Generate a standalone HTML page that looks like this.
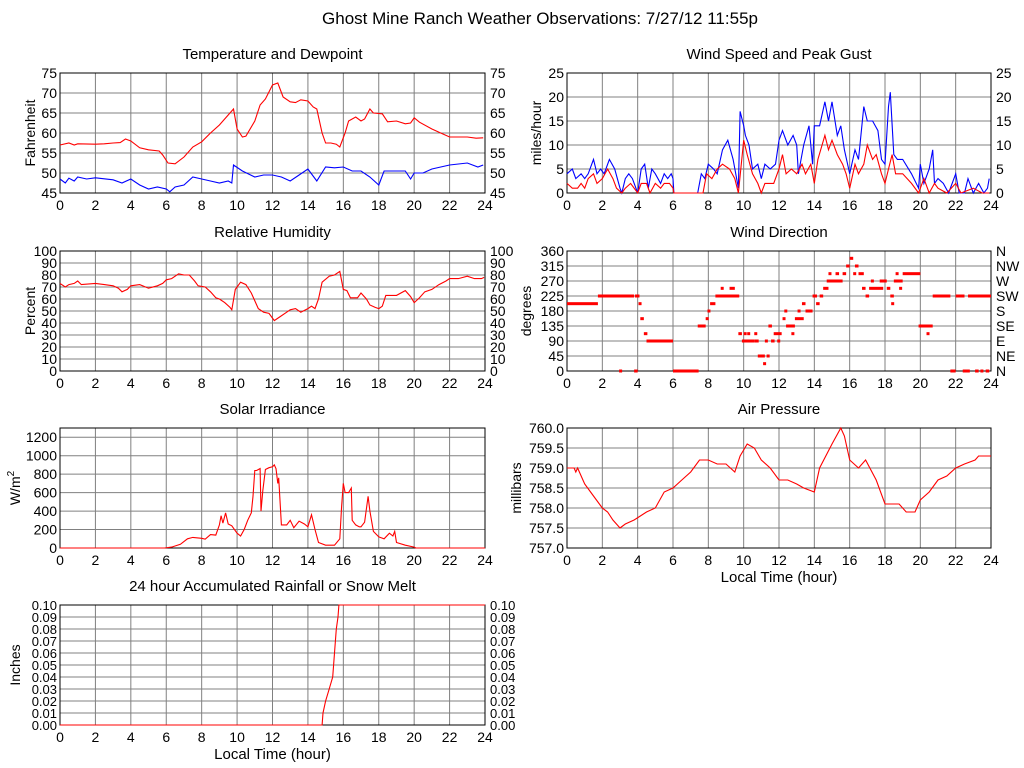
<!DOCTYPE html>
<html><head><meta charset="utf-8"><style>
html,body{margin:0;padding:0;background:#fff;}
svg{display:block;font-family:"Liberation Sans",sans-serif;}
</style></head><body>
<svg id="chart" width="1024" height="768" viewBox="0 0 1024 768" xmlns="http://www.w3.org/2000/svg">
<rect x="0" y="0" width="1024" height="768" fill="#fff"/>
<text x="540" y="24" font-size="17" text-anchor="middle">Ghost Mine Ranch Weather Observations: 7/27/12 11:55p</text>
</svg>
<script>
// ---- data ----
const tempT=[0,0.5,0.8,1,2,2.5,3,3.4,3.7,4,4.5,5,5.6,5.8,6.1,6.5,7,7.5,8,8.5,9,9.5,9.8,10,10.3,10.5,11,11.3,11.6,12,12.3,12.6,13,13.3,13.6,14,14.3,14.5,14.8,15,15.3,15.6,15.8,16.1,16.3,16.7,17,17.2,17.5,17.7,18.2,18.5,19,19.5,19.8,20,20.3,21,21.5,22,23,23.5,23.9];
const tempV=[57,57.5,57,57.3,57.2,57.3,57.5,57.6,58.5,58,56.3,55.8,55.5,54.5,52.5,52.3,54,56.5,57.8,60,62,64.5,66,61,59,59.2,63,67,68.5,72,72.5,69,67.8,67.6,68.3,68,66.5,66,60,57.5,57.5,57.2,56.5,60,63,64,63,63.5,66,65,64.8,62.8,63,62.3,62.5,63.8,62.7,61,60,59,59,58.7,58.8];
const dewT=[0,0.3,0.5,0.8,1,1.5,2,3,3.5,4,4.5,5,5.5,6,6.2,6.5,7,7.5,8,8.5,9,9.5,9.7,9.8,10.3,11,11.5,12,12.5,13,13.5,14,14.5,15,15.5,16,16.5,17,17.5,18,18.3,19,19.5,19.8,20,20.5,21,22,23,23.6,23.9];
const dewV=[48.5,47.5,48.7,48,49,48.5,48.8,48.3,47.5,48.5,47,46,46.5,46,45.3,46.5,47,49,48.5,48,47.5,48,47.5,52,50.5,49,49.5,49.5,49,48,49.5,51,48,51.5,51.3,51.5,50.5,50.5,49,47,50.5,50.5,50.5,48.5,50,50,51,52,52.5,51.5,52];
const gustT=[0,0.3,0.5,0.8,1,1.2,1.5,1.7,1.9,2.1,2.4,2.7,3,3.1,3.3,3.5,3.7,4,4.2,4.4,4.6,4.8,5,5.3,5.5,5.7,5.9,6,6.05,7.4,7.6,7.8,8,8.3,8.5,8.8,9.1,9.4,9.7,9.8,10,10.1,10.3,10.5,10.8,11,11.2,11.5,11.8,12,12.2,12.5,12.8,13,13.1,13.4,13.7,13.9,14,14.3,14.6,14.8,15,15.3,15.5,15.7,16,16.3,16.5,16.8,17,17.3,17.6,17.8,18,18.2,18.3,18.5,18.7,19,19.5,19.9,20,20.2,20.5,20.7,20.8,21,21.3,21.6,22,22.2,22.5,22.7,23,23.3,23.6,23.8,23.9];
const gustV=[4,5,3,4,3,4,7,4,5,4,7,5,1,0,3,4,3,0,5,6,1,5,4,2,4,3,4,3,0,0,4,3,6,5,4,9,11,7,1,17,14,12,10,5,6,3,6,5,6,11,13,10,12,10,4,10,14,6,14,14,19,15,19,12,14,9,4,9,7,18,15,15,13,7,6,18,21,8,7,7,4,1,6,2,5,9,2,3,2,0,4,0,0,3,0,2,0,1,3];
const speedT=[0,0.3,0.6,0.8,1,1.2,1.5,1.7,2,2.3,2.6,2.8,3.1,3.3,3.6,4,4.2,4.5,4.7,5,5.3,5.5,5.8,6,6.05,7.7,7.9,8.2,8.5,8.8,9.2,9.5,9.7,10,10.2,10.5,10.8,11,11.2,11.7,12,12.2,12.4,12.7,13,13.3,13.5,13.8,14,14.2,14.6,14.8,15,15.3,15.6,15.8,16,16.3,16.5,16.8,17,17.3,17.5,17.8,18,18.2,18.4,18.6,19,19.5,19.9,20.2,20.5,20.8,21,21.5,22,22.3,23,23.5,23.9];
const speedV=[2,1,1,2,1,3,4,2,3,5,3,1,0,1,2,0,2,2,0,2,1,2,2,1,0,0,4,3,5,6,5,3,0,11,8,4,2,0,2,2,5,8,4,5,4,6,4,6,2,7,12,9,11,8,6,4,1,6,4,6,10,7,8,4,2,5,8,4,4,2,0,3,0,2,1,0,2,0,1,0,0];
// wind direction: start hour, end hour, degrees
const dirStart=[0,1.75,2.95,3.8,3.85,4.05,4.15,4.35,4.5,6.0,7.4,7.85,7.95,8.1,8.4,8.7,9.2,9.7,9.9,10.0,10.2,10.6,10.6,10.8,11.1,11.3,11.2,11.4,11.55,11.7,11.9,12.2,12.3,12.4,12.7,12.9,13.05,13.3,13.5,13.9,14.1,14.3,14.5,14.7,14.8,15.2,15.4,15.6,15.8,16.0,16.2,16.3,16.5,16.7,16.9,17.1,17.2,17.7,18.1,18.3,18.35,18.5,18.6,18.8,19.0,19.9,20.35,20.7,21.7,22.0,22.4,22.7,23.1,23.4,23.7];
const dirEnd=[1.75,3.8,3.05,4.0,4.1,4.15,4.35,4.55,6.0,7.45,7.85,7.95,8.1,8.4,9.75,8.8,9.5,9.9,10.6,10.1,10.3,10.7,10.85,11.2,11.2,11.4,11.3,11.6,11.75,12.15,12.0,12.3,12.4,12.9,12.8,13.4,13.15,13.5,13.9,14.15,14.3,14.5,14.8,15.5,14.9,15.4,15.6,15.8,16.0,16.2,16.3,16.5,16.8,16.9,17.1,17.9,17.3,18.1,18.3,18.5,18.45,19.0,18.7,18.9,20.0,20.7,20.45,21.7,22.0,22.5,22.8,24,23.3,23.55,23.9];
const dirV=[202,225,0,0,225,202,157,112,90,0,135,157,180,202,225,248,248,112,90,112,112,112,90,45,22,45,90,135,90,112,90,157,180,135,112,157,180,202,180,225,202,225,248,270,292,292,270,292,315,338,292,315,292,248,225,248,270,270,248,225,202,270,292,248,292,135,112,225,0,225,0,225,0,0,0];
const rhT=[0,0.3,0.5,0.8,1,1.2,2,2.5,3,3.3,3.5,3.8,4,4.5,5,5.5,5.8,6,6.3,6.7,7,7.3,7.6,7.8,8.2,8.5,8.8,9,9.3,9.6,9.7,9.9,10.2,10.5,10.8,11.2,11.5,11.8,12.1,12.4,12.8,13,13.3,13.6,14,14.2,14.4,14.6,14.8,15.2,15.5,15.8,16,16.2,16.4,16.8,17,17.3,17.5,17.8,18,18.2,18.4,19,19.5,19.8,20,20.3,20.6,21,21.4,21.8,22,22.5,23,23.4,23.8,23.95];
const rhV=[73,70,72,73,75,72,73,72,71,69,66,68,71,72,69,71,73,76,77,81,80,80,75,71,70,66,61,60,57,53,51,68,74,72,65,52,49,48,42,45,49,51,52,49,52,54,52,60,74,79,80,83,68,67,61,61,65,60,55,53,52,54,63,63,67,62,57,61,66,68,72,75,77,77,79,77,77,78];
const solT=[0,5.9,6.3,6.8,7.2,7.5,8,8.2,8.5,8.8,9.0,9.1,9.2,9.35,9.5,9.7,10,10.2,10.4,10.6,10.8,10.9,11.0,11.1,11.3,11.35,11.45,11.6,11.8,12,12.1,12.2,12.3,12.35,12.5,12.8,13.0,13.2,13.5,13.8,14,14.2,14.4,14.6,15,15.5,15.8,15.9,16.0,16.1,16.3,16.45,16.5,16.7,16.9,17.0,17.2,17.4,17.5,17.7,18,18.3,18.6,18.8,18.9,19,19.5,20,20.1,24];
const solV=[0,0,10,40,100,115,105,95,145,140,250,350,270,380,260,240,160,130,200,300,380,560,840,840,860,400,620,850,870,880,900,860,700,760,250,250,300,220,290,260,230,360,200,60,30,30,100,450,700,600,600,650,300,250,230,230,280,560,400,180,120,100,160,130,180,60,30,10,0,0];
const presT=[0,0.4,0.5,0.6,1,1.5,2,2.3,2.6,3,3.3,3.8,4.5,5,5.5,6,6.5,7,7.5,8,8.5,9,9.5,9.8,10.2,10.6,11,11.5,12,12.5,13,13.4,14,14.3,15,15.5,15.7,16,16.5,16.9,17.5,18,18.3,18.8,19.2,19.7,20,20.5,21,21.5,22,22.5,23.1,23.3,24];
const presV=[759.0,759.0,758.9,759.0,758.6,758.3,758.0,757.9,757.7,757.5,757.6,757.7,757.9,758.0,758.4,758.5,758.7,758.9,759.2,759.2,759.1,759.1,758.9,759.3,759.6,759.5,759.2,759.0,758.7,758.7,758.6,758.5,758.4,759.0,759.6,760.0,759.8,759.2,759.0,759.2,758.7,758.1,758.1,758.1,757.9,757.9,758.2,758.4,758.7,758.8,759.0,759.1,759.2,759.3,759.3];
const rainT=[0,14.8,14.85,15,15.2,15.4,15.5,15.6,15.7,15.75,24];
const rainV=[0,0,0.01,0.02,0.03,0.04,0.06,0.08,0.09,0.1,0.1];
const xTicks=[0,2,4,6,8,10,12,14,16,18,20,22,24];

const NS="http://www.w3.org/2000/svg";
const svg=document.getElementById('chart');
function mk(tag,attrs,parent){const e=document.createElementNS(NS,tag);for(const k in attrs)e.setAttribute(k,attrs[k]);(parent||svg).appendChild(e);return e;}

function panel(o){
  const g=mk('g',{});
  
  
  const xs=t=>o.x0+(t/24)*(o.x1-o.x0);
  const ys=v=>o.y1-(v-o.min)/(o.max-o.min)*(o.y1-o.y0);
  const t=mk('text',{x:(o.x0+o.x1)/2,y:o.y0-14,'font-size':15,'text-anchor':'middle'},g);
  t.textContent=o.title;
  
  
  // grid
  xTicks.forEach(v=>{
    const l=mk('line',{x1:xs(v),x2:xs(v),y1:o.y0,y2:o.y1,stroke:'#808080','stroke-width':1},g);
    
    
    const tx=mk('text',{x:xs(v),y:o.y1+17,'font-size':14,'text-anchor':'middle'},g);
    tx.textContent=v;
    
    
  });
  o.yTicks.forEach((v,i)=>{
    const l=mk('line',{x1:o.x0,x2:o.x1,y1:ys(v),y2:ys(v),stroke:'#808080','stroke-width':1},g);
    
    
    const lab=o.yLabels?o.yLabels[i]:String(v);
    const ty=mk('text',{x:o.x0-3,y:ys(v)+5,'font-size':o.tickFont||14,'text-anchor':'end'},g);
    ty.textContent=lab;
    
    
    if(o.right){
      const tr=mk('text',{x:o.x1+5,y:ys(v)+5,'font-size':o.tickFont||14},g);
      tr.textContent=o.rightLabels?o.rightLabels[i]:lab;
      
      
    }
  });
  const b=mk('rect',{x:o.x0,y:o.y0,width:o.x1-o.x0,height:o.y1-o.y0,fill:'none',stroke:'#000','stroke-width':1},g);
  
  
  const yt=mk('text',{x:0,y:0,'font-size':14,'text-anchor':'middle',transform:`translate(${o.yTitleX},${(o.y0+o.y1)/2}) rotate(-90)`},g);
  
  
  if(o.sup){yt.textContent=o.yTitle;const s=mk('tspan',{dy:-6,'font-size':10},yt);s.textContent=o.sup;}
  else yt.textContent=o.yTitle;
  if(o.xTitle){
    const xt=mk('text',{x:(o.x0+o.x1)/2,y:o.y1+34,'font-size':15,'text-anchor':'middle'},g);
    xt.textContent=o.xTitle;
    
    
  }
  (o.series||[]).forEach(s=>{
    const d=s.t.map((tt,i)=>(i?'L':'M')+xs(tt).toFixed(1)+' '+ys(s.v[i]).toFixed(1)).join(' ');
    const p=mk('path',{d:d,fill:'none',stroke:s.color,'stroke-width':1.1},g);
    
    
  });
  if(o.segs){
    o.segs.s.forEach((st,i)=>{
      const y=ys(o.segs.v[i]);
      const r=mk('rect',{x:xs(st),y:y-1.5,width:Math.max(3,xs(o.segs.e[i])-xs(st)),height:3,fill:'#f00'},g);
      
      
    });
  }
}
const L={x0:60,x1:485}, R={x0:567,x1:991};
panel({name:'temperature',title:'Temperature and Dewpoint',...L,y0:73,y1:193,min:45,max:75,yTicks:[45,50,55,60,65,70,75],right:true,yTitle:'Fahrenheit',yTitleX:35,
  series:[{name:'temperature-line',t:tempT,v:tempV,color:'#f00'},{name:'dewpoint-line',t:dewT,v:dewV,color:'#00f'}]});
panel({name:'wind-speed',title:'Wind Speed and Peak Gust',...R,y0:73,y1:193,min:0,max:25,yTicks:[0,5,10,15,20,25],right:true,yTitle:'miles/hour',yTitleX:541,
  series:[{name:'gust-line',t:gustT,v:gustV,color:'#00f'},{name:'speed-line',t:speedT,v:speedV,color:'#f00'}]});
panel({name:'humidity',title:'Relative Humidity',...L,y0:251,y1:371,min:0,max:100,yTicks:[0,10,20,30,40,50,60,70,80,90,100],right:true,yTitle:'Percent',yTitleX:35,
  series:[{name:'humidity-line',t:rhT,v:rhV,color:'#f00'}]});
panel({name:'wind-direction',title:'Wind Direction',...R,y0:251,y1:371,min:0,max:360,yTicks:[0,45,90,135,180,225,270,315,360],right:true,
  rightLabels:['N','NE','E','SE','S','SW','W','NW','N'],yTitle:'degrees',yTitleX:531,segs:{s:dirStart,e:dirEnd,v:dirV}});
panel({name:'solar',title:'Solar Irradiance',...L,y0:428,y1:548,min:0,max:1300,yTicks:[0,200,400,600,800,1000,1200],yTitle:'W/m',sup:'2',yTitleX:20,
  series:[{name:'solar-line',t:solT,v:solV,color:'#f00'}]});
panel({name:'pressure',title:'Air Pressure',...R,y0:428,y1:548,min:757,max:760,yTicks:[757,757.5,758,758.5,759,759.5,760],
  yLabels:['757.0','757.5','758.0','758.5','759.0','759.5','760.0'],yTitle:'millibars',yTitleX:521,xTitle:'Local Time (hour)',
  series:[{name:'pressure-line',t:presT,v:presV,color:'#f00'}]});
panel({name:'rainfall',title:'24 hour Accumulated Rainfall or Snow Melt',...L,y0:605,y1:725,min:0,max:0.1,
  yTicks:[0,0.01,0.02,0.03,0.04,0.05,0.06,0.07,0.08,0.09,0.1],yLabels:['0.00','0.01','0.02','0.03','0.04','0.05','0.06','0.07','0.08','0.09','0.10'],
  right:true,tickFont:13,yTitle:'Inches',yTitleX:20,xTitle:'Local Time (hour)',
  series:[{name:'rainfall-line',t:rainT,v:rainV,color:'#f00'}]});
</script>
</body></html>
